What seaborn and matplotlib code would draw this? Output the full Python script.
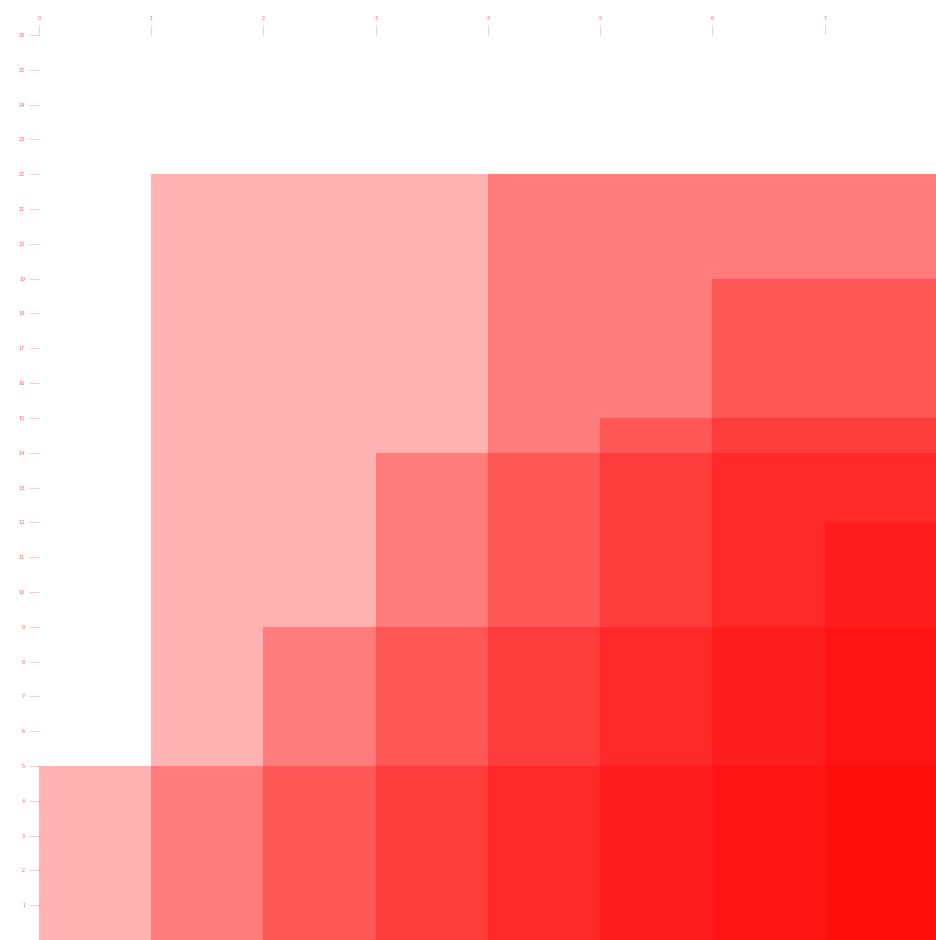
import numpy as np
import matplotlib
matplotlib.use('Agg')
import matplotlib.pyplot as plt
import seaborn as sns

# each step starts at one x position and runs to the right end of the axis
starts = [0, 1, 2, 3, 4, 5, 6, 7]
heights = [5, 22, 9, 14, 22, 15, 19, 12]
x_ticks = list(range(8))
y_ticks = list(range(1, 27))
x_end = 8

sns.set_theme(style='white')

fig = plt.figure(figsize=(9.37, 9.40), dpi=100)
ax = fig.add_axes([39 / 937, 0.0, 898 / 937, 1 - 35 / 940])

widths = [x_end - s for s in starts]
ax.bar(starts, heights, width=widths, align='edge', color='red', alpha=0.3, linewidth=0)

ax.set_xlim(0, x_end)
ax.set_ylim(0, 26)
ax.set_xticks(x_ticks)
ax.set_yticks(y_ticks)
ax.set_xticklabels([str(t) for t in x_ticks])
ax.set_yticklabels([str(t) for t in y_ticks])
ax.xaxis.tick_top()

# tiny pink tick labels and marks
ax.tick_params(axis='both', which='major', length=7, width=0.7, color='#ffc8c8',
               labelsize=3.5, labelcolor='#ff5c5c', pad=3, bottom=False, top=True, left=True)
for side in ax.spines.values():
    side.set_visible(False)

plt.savefig('out.png', dpi=100)
